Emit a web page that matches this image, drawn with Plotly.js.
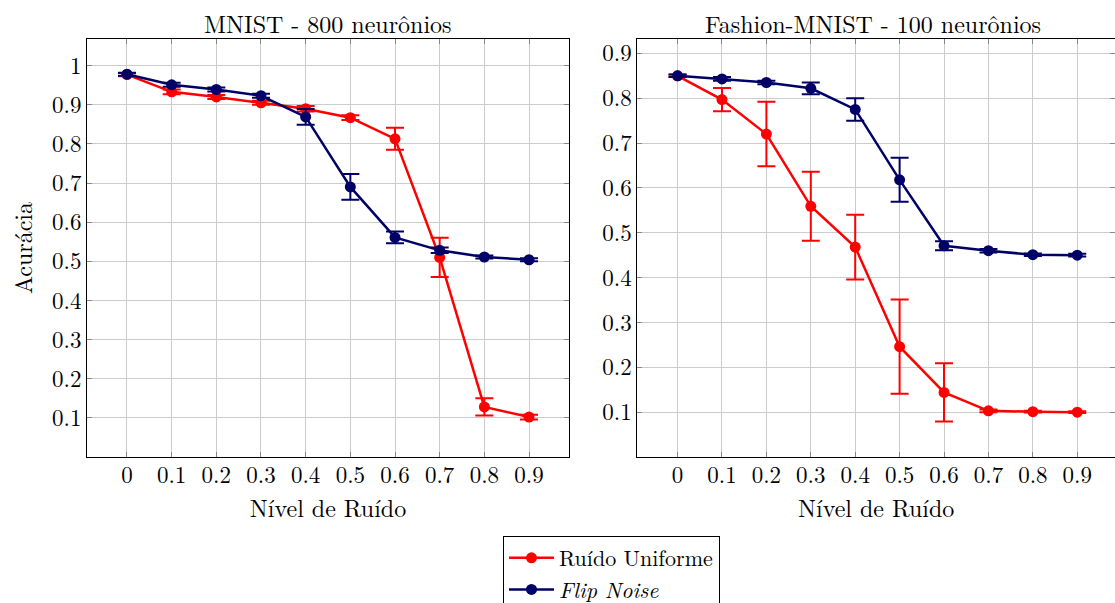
<!DOCTYPE html>
<html>
<head>
<meta charset="utf-8">
<script src="https://cdn.plot.ly/plotly-3.0.1.min.js"></script>
<style>
html,body{margin:0;padding:0;background:#fff;}
#chart{width:1115px;height:603px;}
#chart text{font-family:'Latin Modern Roman','Liberation Serif',serif !important;}
</style>
</head>
<body>
<div id="chart"></div>
<script>
// Noise levels (x categories)
const noiseLevels = [0, 0.1, 0.2, 0.3, 0.4, 0.5, 0.6, 0.7, 0.8, 0.9];
const tickLabels = ['0', '0.1', '0.2', '0.3', '0.4', '0.5', '0.6', '0.7', '0.8', '0.9'];

// MNIST - 800 neurônios
const mnistUniform    = [0.977, 0.933, 0.920, 0.905, 0.890, 0.867, 0.813, 0.510, 0.128, 0.102];
const mnistUniformErr = [0.004, 0.006, 0.005, 0.005, 0.007, 0.006, 0.028, 0.050, 0.022, 0.006];
const mnistFlip       = [0.978, 0.951, 0.939, 0.923, 0.869, 0.690, 0.561, 0.528, 0.511, 0.504];
const mnistFlipErr    = [0.004, 0.005, 0.005, 0.005, 0.020, 0.033, 0.015, 0.007, 0.004, 0.004];

// Fashion-MNIST - 100 neurônios
const fashionUniform    = [0.850, 0.797, 0.720, 0.559, 0.468, 0.246, 0.144, 0.103, 0.101, 0.100];
const fashionUniformErr = [0.003, 0.026, 0.072, 0.077, 0.072, 0.105, 0.065, 0.003, 0.002, 0.002];
const fashionFlip       = [0.850, 0.843, 0.835, 0.822, 0.775, 0.618, 0.471, 0.460, 0.451, 0.450];
const fashionFlipErr    = [0.003, 0.004, 0.004, 0.013, 0.025, 0.049, 0.010, 0.004, 0.003, 0.003];

const seriesNames = ['Ruído Uniforme', '<i>Flip Noise</i>'];
const colors = ['#ff0000', '#000066'];
const FONT = 'Latin Modern Roman';

function trace(y, err, idx, xa, ya, show) {
  return {
    x: noiseLevels, y: y, xaxis: xa, yaxis: ya,
    type: 'scatter', mode: 'lines+markers',
    name: seriesNames[idx], showlegend: show,
    line: {color: colors[idx], width: 2.5},
    marker: {color: colors[idx], size: 11, symbol: 'circle'},
    error_y: {type: 'data', array: err, visible: true, color: colors[idx], thickness: 2, width: 9}
  };
}

const data = [
  trace(mnistUniform, mnistUniformErr, 0, 'x', 'y', true),
  trace(mnistFlip, mnistFlipErr, 1, 'x', 'y', true),
  trace(fashionUniform, fashionUniformErr, 0, 'x2', 'y2', false),
  trace(fashionFlip, fashionFlipErr, 1, 'x2', 'y2', false)
];

const W = 1115, H = 603;
const yDom = [(H - 457) / H, (H - 39) / H];

function xaxis(domain, range, anchor) {
  return {
    domain: domain, range: range, anchor: anchor,
    tickmode: 'array', tickvals: noiseLevels, ticktext: tickLabels,
    ticks: 'inside', ticklen: 5, tickcolor: '#888', tickwidth: 1,
    ticklabelstandoff: -3,
    showline: true, linecolor: '#000', linewidth: 1, mirror: 'ticks',
    showgrid: true, gridcolor: '#cccccc', gridwidth: 1, zeroline: false,
    tickfont: {family: FONT, size: 23, color: '#000'},
    title: {text: 'Nível de Ruído', font: {family: FONT, size: 24, color: '#000'}, standoff: 10}
  };
}
function yaxis(domain, range, anchor, vals, labels, title) {
  const a = {
    domain: domain, range: range, anchor: anchor,
    tickmode: 'array', tickvals: vals, ticktext: labels,
    ticks: 'inside', ticklen: 5, tickcolor: '#888', tickwidth: 1,
    showline: true, linecolor: '#000', linewidth: 1, mirror: 'ticks',
    showgrid: true, gridcolor: '#cccccc', gridwidth: 1, zeroline: false,
    tickfont: {family: FONT, size: 23, color: '#000'}
  };
  if (title) a.title = {text: title, font: {family: FONT, size: 24, color: '#000'}, standoff: 12};
  return a;
}

const yValsL = [0.1, 0.2, 0.3, 0.4, 0.5, 0.6, 0.7, 0.8, 0.9, 1];
const yLabelsL = ['0.1', '0.2', '0.3', '0.4', '0.5', '0.6', '0.7', '0.8', '0.9', '1'];
const yValsR = [0.1, 0.2, 0.3, 0.4, 0.5, 0.6, 0.7, 0.8, 0.9];
const yLabelsR = ['0.1', '0.2', '0.3', '0.4', '0.5', '0.6', '0.7', '0.8', '0.9'];

const layout = {
  width: W, height: H,
  margin: {l: 0, r: 0, t: 0, b: 0, autoexpand: false},
  paper_bgcolor: '#fff', plot_bgcolor: '#fff',
  font: {family: FONT, color: '#000'},
  xaxis: xaxis([87 / W, 569 / W], [-0.0895, 0.9895], 'y'),
  yaxis: yaxis(yDom, [0, 1.068], 'x', yValsL, yLabelsL, 'Acurácia'),
  xaxis2: xaxis([637.3 / W, 1], [-0.0907, 0.985], 'y2'),
  yaxis2: yaxis(yDom, [0, 0.932], 'x2', yValsR, yLabelsR, null),
  showlegend: true,
  legend: {
    x: 503 / W, xanchor: 'left', y: (H - 536) / H, yanchor: 'top',
    bordercolor: '#000', borderwidth: 1, bgcolor: '#fff',
    font: {family: FONT, size: 22, color: '#000'},
    itemwidth: 45, tracegroupgap: 0
  },
  annotations: [
    {text: 'MNIST - 800 neurônios', x: 328 / W, y: (H - 23) / H, xref: 'paper', yref: 'paper',
     showarrow: false, xanchor: 'center', yanchor: 'middle', font: {family: FONT, size: 24, color: '#000'}},
    {text: 'Fashion-MNIST - 100 neurônios', x: 872.5 / W, y: (H - 23) / H, xref: 'paper', yref: 'paper',
     showarrow: false, xanchor: 'center', yanchor: 'middle', font: {family: FONT, size: 24, color: '#000'}}
  ]
};

Plotly.newPlot('chart', data, layout, {displayModeBar: false, staticPlot: true});
</script>
</body>
</html>
